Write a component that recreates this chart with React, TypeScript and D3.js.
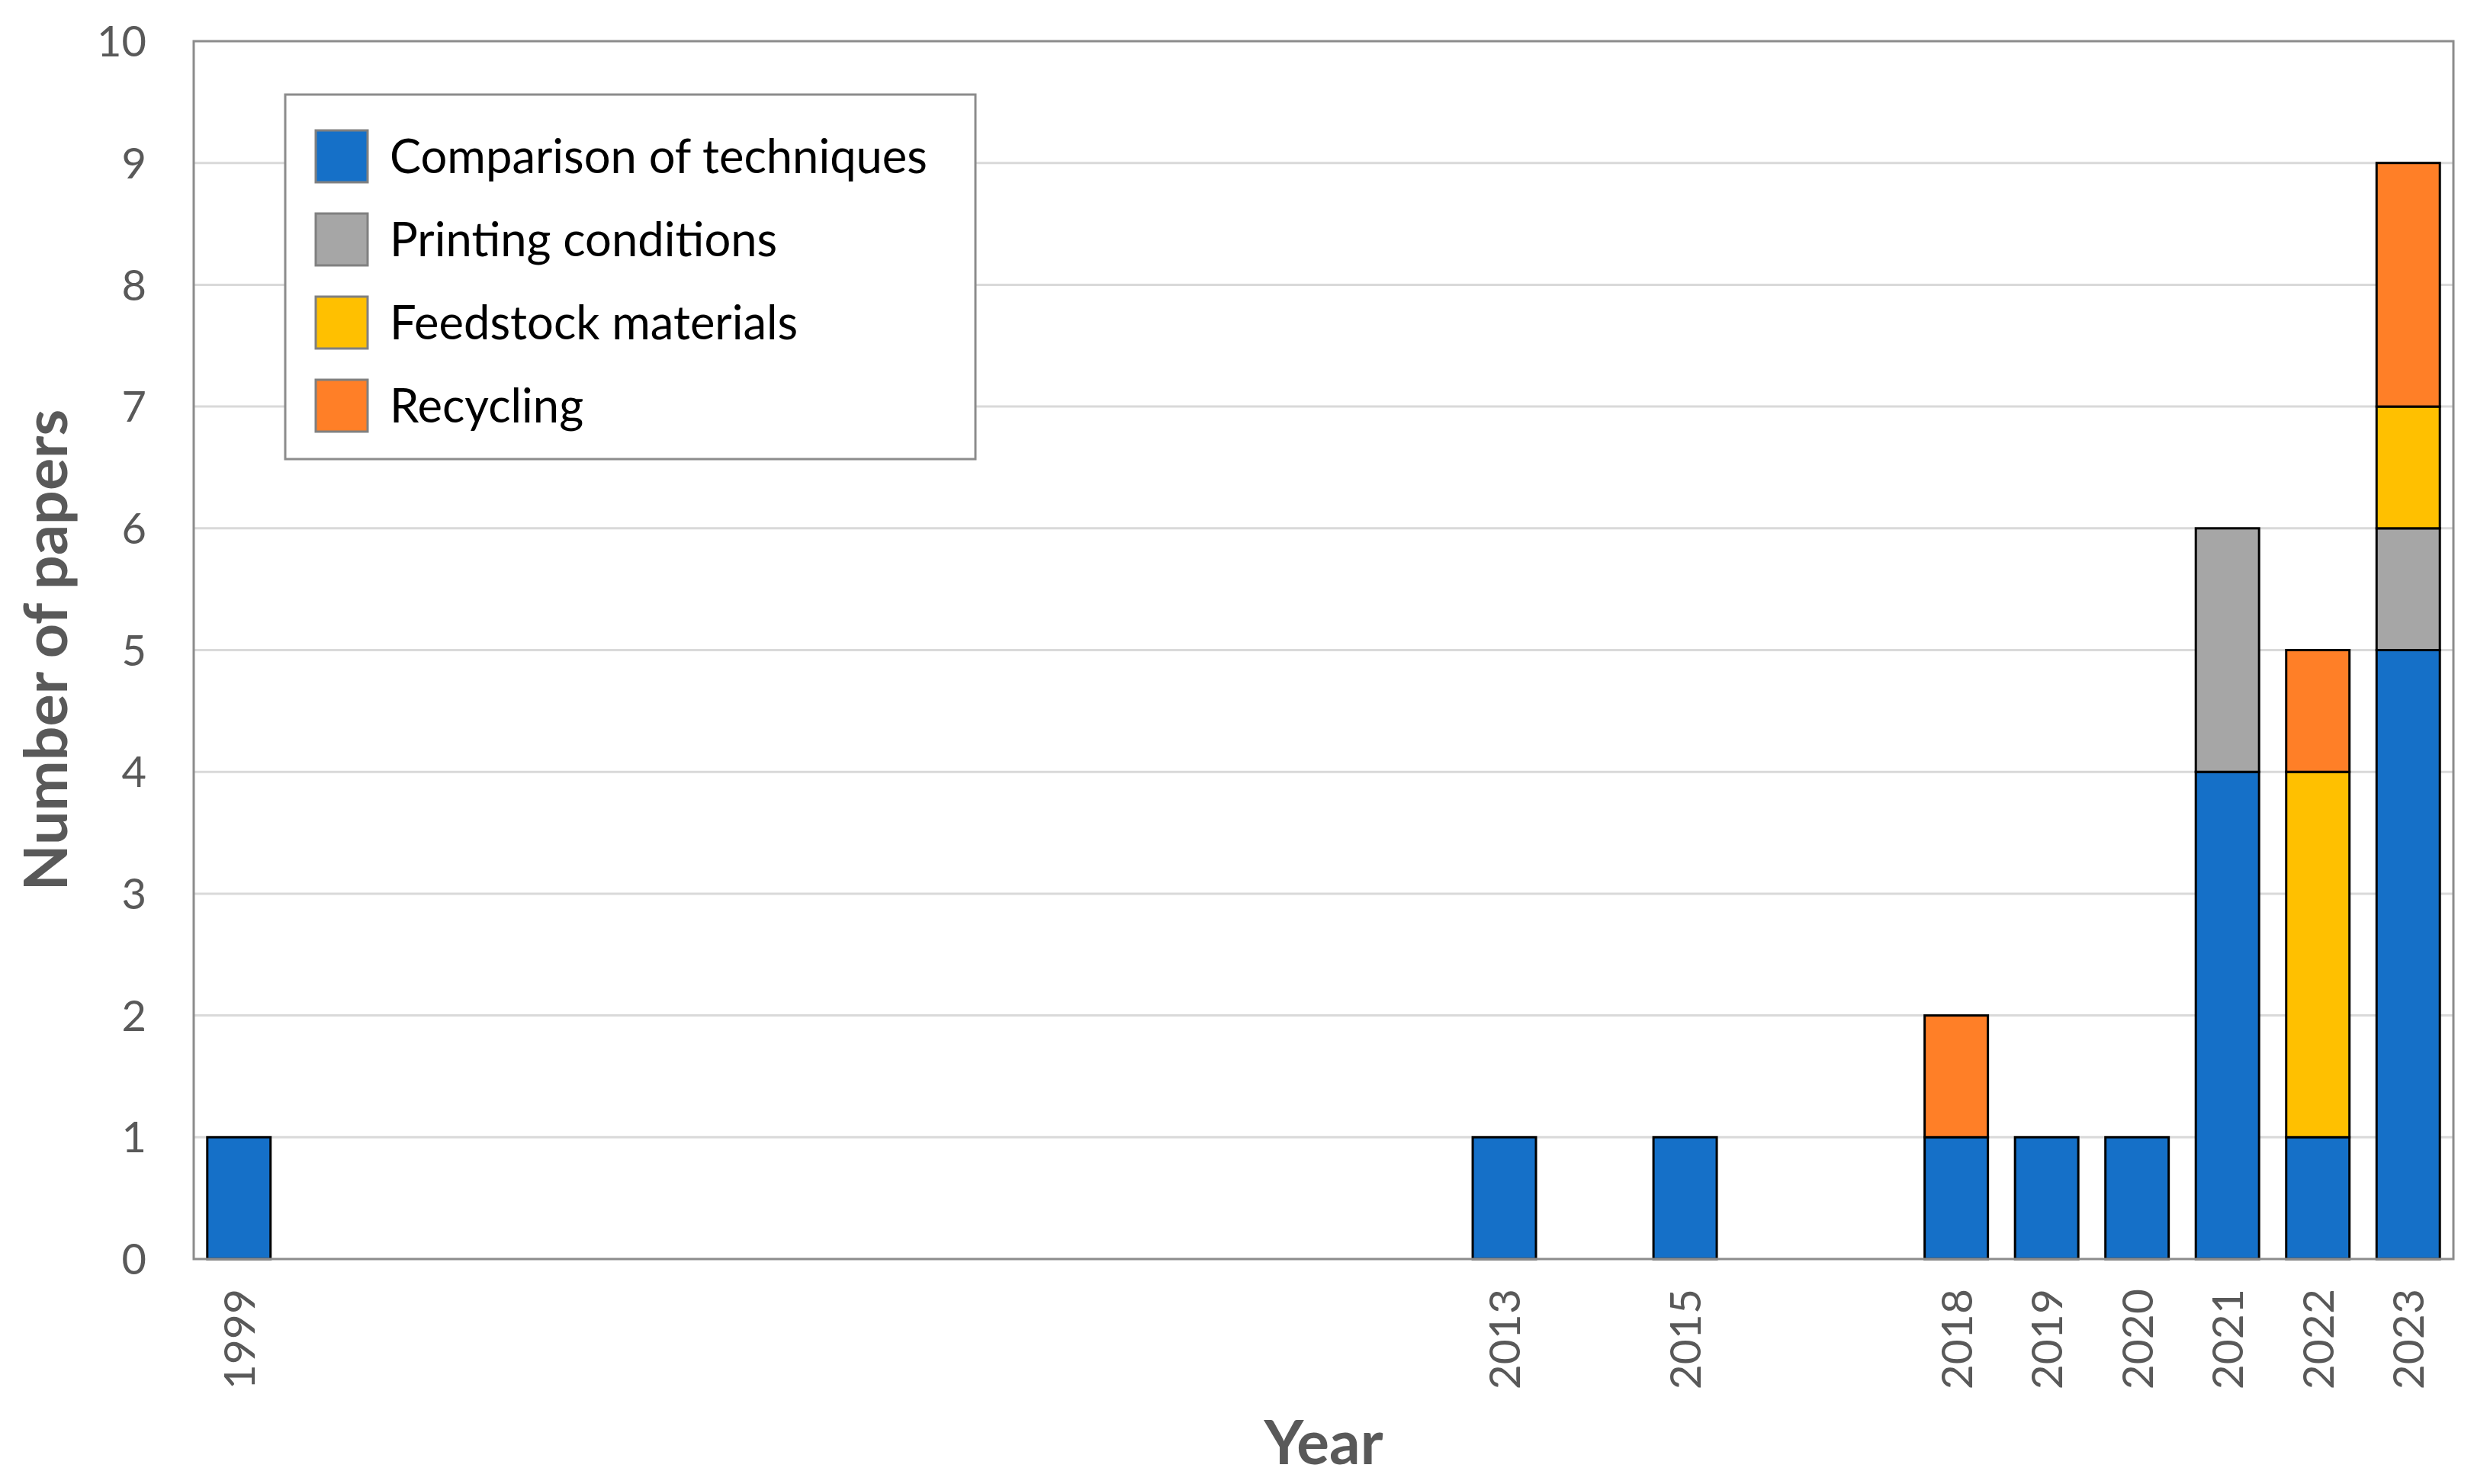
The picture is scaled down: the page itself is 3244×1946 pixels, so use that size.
import React from "react";
import * as d3 from "d3";

const years = [1999, 2013, 2015, 2018, 2019, 2020, 2021, 2022, 2023];
const comparison = [1, 1, 1, 1, 1, 1, 4, 1, 5];
const printing = [0, 0, 0, 0, 0, 0, 2, 0, 1];
const feedstock = [0, 0, 0, 0, 0, 0, 0, 3, 1];
const recycling = [0, 0, 0, 1, 0, 0, 0, 1, 2];
const seriesNames = ["Comparison of techniques", "Printing conditions", "Feedstock materials", "Recycling"];
const seriesColors = ["#1570C8", "#A6A6A6", "#FFC000", "#FF7F27"];
const yTicks = [0, 1, 2, 3, 4, 5, 6, 7, 8, 9, 10];

const W = 3244, H = 1946;
const L = 254, R = 3217, T = 54, B = 1651;
const FONT = "Lato, 'Open Sans', sans-serif";
const TXT = "#595959";

export default function App() {
  const x = d3.scaleLinear().domain([1998.5, 2023.5]).range([L, R]);
  const y = d3.scaleLinear().domain([0, 10]).range([B, T]);
  const rows = years.map((yr, i) => ({
    year: yr,
    s0: comparison[i], s1: printing[i], s2: feedstock[i], s3: recycling[i],
  }));
  const stack = d3.stack<any>().keys(["s0", "s1", "s2", "s3"])(rows);
  const step = x(2000) - x(1999);
  const bw = step * 0.7;

  return (
    <svg width={W} height={H} style={{ position: "absolute", left: 0, top: 0, background: "#fff" }} fontFamily={FONT}>
      <rect x={0} y={0} width={W} height={H} fill="#fff" />
      {yTicks.filter(t => t > 0 && t < 10).map(t => (
        <line key={"g" + t} x1={L} x2={R} y1={y(t)} y2={y(t)} stroke="#D9D9D9" strokeWidth={3} />
      ))}
      {stack.map((layer, si) => layer.map((d, i) => {
        if (d[1] - d[0] <= 0) return null;
        return (
          <rect key={si + "-" + i} x={x(years[i]) - bw / 2} y={y(d[1])} width={bw} height={y(d[0]) - y(d[1])}
            fill={seriesColors[si]} stroke="#000" strokeWidth={3} />
        );
      }))}
      <rect x={L} y={T} width={R - L} height={B - T} fill="none" stroke="#8C8C8C" strokeWidth={3} />
      {yTicks.map(t => (
        <text key={"yt" + t} x={192} y={y(t)} dy="0.36em" textAnchor="end" fontSize={56} fill={TXT}>{t}</text>
      ))}
      {years.map(yr => (
        <text key={"xt" + yr} transform={`translate(${x(yr)},1690) rotate(-90)`} textAnchor="end" dy="0.36em"
          fontSize={57} fill={TXT}>{yr}</text>
      ))}
      <text x={x(2011)} y={1920} textAnchor="middle" fontSize={80} fontWeight="bold" fill={TXT}>Year</text>
      <text transform={`translate(88,${(T + B) / 2}) rotate(-90)`} textAnchor="middle" fontSize={79} fontWeight="bold" fill={TXT}>Number of papers</text>
      <rect x={374} y={124} width={905} height={478} fill="#fff" stroke="#8C8C8C" strokeWidth={3} />
      {seriesNames.map((n, i) => (
        <g key={n} transform={`translate(0,${205 + i * 109})`}>
          <rect x={414} y={-34} width={68} height={68} fill={seriesColors[i]} stroke="#808080" strokeWidth={3} />
          <text x={511} y={0} dy="0.36em" fontSize={61.5} fill="#000">{n}</text>
        </g>
      ))}
    </svg>
  );
}
